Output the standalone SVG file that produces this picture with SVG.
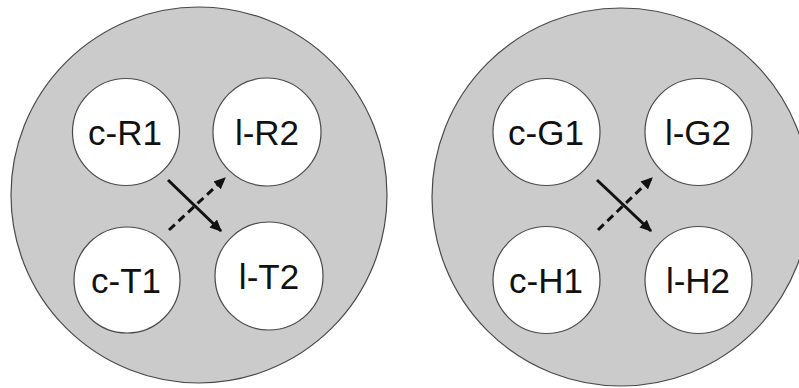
<svg xmlns="http://www.w3.org/2000/svg" width="799" height="388" viewBox="0 0 799 388">
  <style>
    .outer { fill: #cbcbcb; stroke: #4a4a4a; stroke-width: 1.2; }
    .node circle { fill: #ffffff; stroke: #4a4a4a; stroke-width: 1.2; }
    .node text { font-family: "Liberation Sans", Arial, sans-serif; font-size: 35px; fill: #111111; text-anchor: middle; }
    .link { stroke: #111111; stroke-width: 3; fill: none; }
    .dashed { stroke-dasharray: 8 5; }
  </style>
  <defs>
    <marker id="head" viewBox="0 0 10 10" refX="9" refY="5" markerWidth="4" markerHeight="4" orient="auto" markerUnits="strokeWidth">
      <path d="M0,0.5 L10,5 L0,9.5 Z" fill="#111111"/>
    </marker>
  </defs>
  <rect width="799" height="388" fill="#ffffff"/>

  <!-- left cell -->
  <g id="cell-left">
    <circle class="outer" cx="199" cy="195" r="188"/>
  </g>
  <g id="c-R1" class="node">
    <circle cx="126" cy="132" r="53.5"/>
    <text x="125" y="145">c-R1</text>
  </g>
  <g id="l-R2" class="node">
    <circle cx="267" cy="132" r="54"/>
    <text x="267" y="145">l-R2</text>
  </g>
  <g id="c-T1" class="node">
    <circle cx="127" cy="280" r="53"/>
    <text x="126" y="293">c-T1</text>
  </g>
  <g id="l-T2" class="node">
    <circle cx="269" cy="276" r="54"/>
    <text x="269" y="289">l-T2</text>
  </g>

  <!-- right cell -->
  <g id="cell-right">
    <circle class="outer" cx="621" cy="197" r="189"/>
  </g>
  <g id="c-G1" class="node">
    <circle cx="546.5" cy="132" r="53.5"/>
    <text x="546" y="145">c-G1</text>
  </g>
  <g id="l-G2" class="node">
    <circle cx="698.5" cy="132" r="53.5"/>
    <text x="698" y="145">l-G2</text>
  </g>
  <g id="c-H1" class="node">
    <circle cx="546.5" cy="280" r="53.5"/>
    <text x="546" y="293">c-H1</text>
  </g>
  <g id="l-H2" class="node">
    <circle cx="698.5" cy="280" r="53.5"/>
    <text x="698" y="293">l-H2</text>
  </g>

  <!-- connectors -->
  <g id="connectors">
    <line class="link" x1="168" y1="180" x2="221" y2="231" marker-end="url(#head)"/>
    <line class="link dashed" x1="169" y1="230" x2="225" y2="178" marker-end="url(#head)"/>
    <line class="link" x1="597" y1="180" x2="651" y2="231" marker-end="url(#head)"/>
    <line class="link dashed" x1="598" y1="230" x2="652" y2="178" marker-end="url(#head)"/>
  </g>
</svg>
